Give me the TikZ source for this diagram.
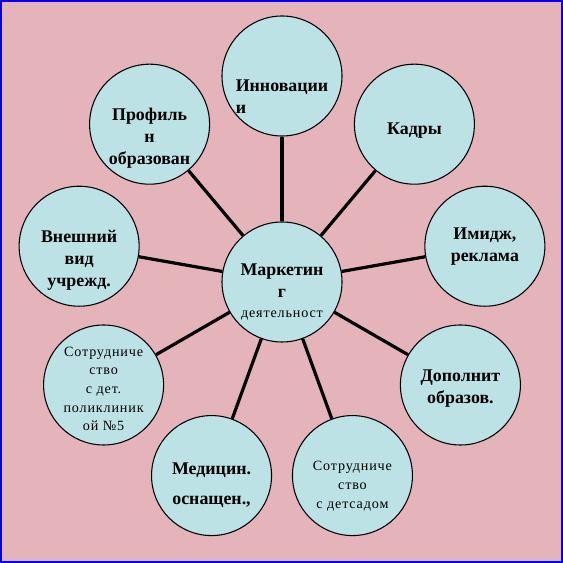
\documentclass[tikz,border=0pt]{standalone}
\usepackage{fontspec}
\setmainfont{Liberation Serif}
\newfontfamily\spacedserif[LetterSpace=6]{Liberation Serif}
\usetikzlibrary{trees}
\definecolor{paper}{RGB}{229,179,186}
\definecolor{ballfill}{RGB}{188,226,229}
\definecolor{frameblue}{RGB}{0,0,255}
\tikzset{
  ball/.style={circle, draw, line width=0.8pt, fill=ballfill, minimum size=90pt, inner sep=0pt},
  bigtxt/.style={font=\bfseries\fontsize{13.4}{16.5}\selectfont, align=center},
  smalltxt/.style={font=\spacedserif\fontsize{10.6}{14}\selectfont, align=center}
}
\begin{document}
\begin{tikzpicture}[x=0.75pt, y=0.75pt, level distance=154.5pt,
edge from parent/.style={draw, line width=2.4pt}]
\useasboundingbox (0,0) rectangle (563,563);
\fill[paper] (0,0) rectangle (563,563);
\draw[frameblue, line width=1.5pt] (0.75,0.75) rectangle (562.25,562.25);
\node[ball, label={[bigtxt, name=mkt-t, yshift=-7.5pt]center:{Маркетин\\г\\[-1pt]{\spacedserif\mdseries\fontsize{10.6}{14}\selectfont деятельност}}}] (mkt) at (282,281) {}
    child[grow=90] { node[ball, label={[bigtxt, align=left, name=inn-t, yshift=-15.75pt]center:{Инновации\\и}}] (inn) {} }
    child[grow=50] { node[ball, label={[bigtxt, name=kadr-t, yshift=-5pt]center:{Кадры}}] (kadr) {} }
    child[grow=10] { node[ball, label={[bigtxt, name=imij-t]center:{Имидж,\\реклама}}] (imij) {} }
    child[grow=-30] { node[ball, label={[bigtxt, name=dop-t, yshift=-3pt]center:{Дополнит\\образов.}}] (dop) {} }
    child[grow=-70] { node[ball, label={[smalltxt, name=sad-t, yshift=-8pt]center:{Сотрудниче\\ство\\ с детсадом}}] (sad) {} }
    child[grow=-110] { node[ball, label={[bigtxt, name=med-t, yshift=-7pt]center:{Медицин.\\[6pt]оснащен.,}}] (med) {} }
    child[grow=-150] { node[ball, label={[smalltxt, name=pol-t, yshift=-3pt]center:{Сотрудниче\\ство\\ с дет.\\поликлиник\\ой №5}}] (pol) {} }
    child[grow=170] { node[ball, label={[bigtxt, name=vid-t, yshift=-10.5pt]center:{Внешний\\вид\\учрежд.}}] (vid) {} }
    child[grow=130] { node[ball, label={[bigtxt, name=prof-t, yshift=-10.5pt]center:{Профиль\\н\\образован}}] (prof) {} };
\end{tikzpicture}
\end{document}
